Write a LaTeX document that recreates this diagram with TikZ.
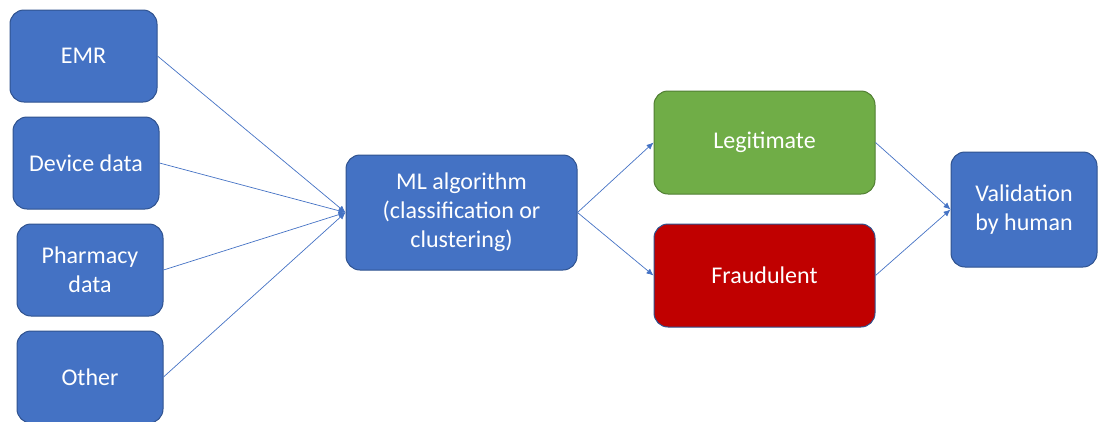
\documentclass[tikz,border=0pt]{standalone}
\usepackage{fontspec}
\setmainfont{Carlito}
\usetikzlibrary{arrows.meta}
\definecolor{boxblue}{HTML}{4472C4}
\definecolor{edgeblue}{HTML}{2F528F}
\definecolor{boxgreen}{HTML}{70AD47}
\definecolor{edgegreen}{HTML}{507E32}
\definecolor{boxred}{HTML}{C00000}
\begin{document}
\begin{tikzpicture}[x=1pt, y=-1pt,
		block/.style={draw=edgeblue, fill=boxblue, line width=1pt, rounded corners=14pt, text=white, align=center, font=\fontsize{24}{29}\selectfont, inner sep=0pt},
		link/.style={draw=boxblue, line width=0.7pt, -{Latex[length=7pt,width=6pt]}}]
			\useasboundingbox (0,0) rectangle (1099,421);
			% sources
			\node[block, minimum width=147pt, minimum height=92pt] (emr) at (83.5,56) {EMR};
			\node[block, minimum width=146pt, minimum height=92pt] (device) at (86,163) {Device data};
			\node[block, minimum width=146pt, minimum height=92pt] (pharmacy) at (90,270) {Pharmacy\\data};
			\node[block, minimum width=146pt, minimum height=92pt] (other) at (90,377) {Other};
			% model
			\node[block, minimum width=231pt, minimum height=115pt] (ml) at (461.5,212.5) {ML algorithm\\(classification or\\clustering)};
			% outcomes
			\node[block, fill=boxgreen, draw=edgegreen, minimum width=221pt, minimum height=103pt] (legit) at (764.5,142.5) {Legitimate};
			\node[block, fill=boxred, minimum width=221pt, minimum height=103pt] (fraud) at (764.5,275.5) {Fraudulent};
			\node[block, minimum width=146pt, minimum height=115pt] (valid) at (1024,209.5) {Validation\\by human};
			% connectors
			\draw[link] (emr.east) -- (ml.west);
			\draw[link] (device.east) -- (ml.west);
			\draw[link] (pharmacy.east) -- (ml.west);
			\draw[link] (other.east) -- (ml.west);
			\draw[link] (ml.east) -- (legit.west);
			\draw[link] (ml.east) -- (fraud.west);
			\draw[link] (legit.east) -- (valid.west);
			\draw[link] (fraud.east) -- (valid.west);
		\end{tikzpicture}
\end{document}
